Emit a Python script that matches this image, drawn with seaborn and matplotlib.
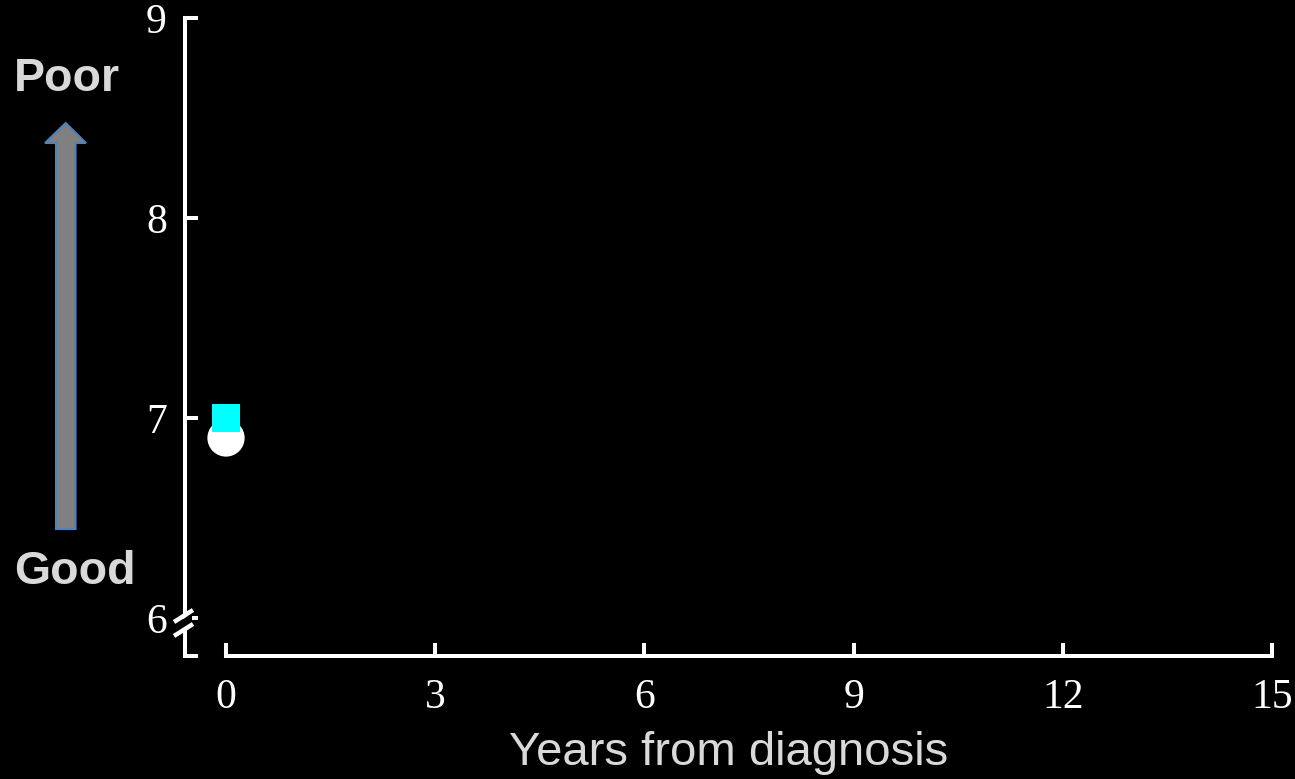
import matplotlib
matplotlib.use('Agg')
import matplotlib.pyplot as plt
import seaborn as sns
import pandas as pd
from matplotlib.patches import Polygon

# ---- data ----
years_circle = [0.0]
values_circle = [6.9]
years_square = [0.0]
values_square = [7.0]
x_ticks = [0, 3, 6, 9, 12, 15]
y_ticks = [6, 7, 8, 9]
x_label = "Years from diagnosis"
top_label = "Poor"
bottom_label = "Good"

sns.set_style("dark", {"axes.facecolor": "black", "figure.facecolor": "black"})

W, H = 1295, 779
fig = plt.figure(figsize=(W / 100, H / 100), dpi=100, facecolor="black")
ax = fig.add_axes([185 / W, 123 / H, 1087 / W, 638 / H])
ax.set_facecolor("black")

df_c = pd.DataFrame({"year": years_circle, "value": values_circle})
df_s = pd.DataFrame({"year": years_square, "value": values_square})
sns.scatterplot(data=df_c, x="year", y="value", marker="o", s=720, color="white",
                edgecolor="none", linewidth=0, ax=ax, zorder=3, clip_on=False)
sns.scatterplot(data=df_s, x="year", y="value", marker="s", s=380, color="#00FFFF",
                edgecolor="none", linewidth=0, ax=ax, zorder=4, clip_on=False)

ax.set_xlim(-0.588, 15)
ax.set_ylim(5.81, 9)
ax.grid(False)
for s in ["top", "right"]:
    ax.spines[s].set_visible(False)
for s in ["left", "bottom"]:
    ax.spines[s].set_color("white")
    ax.spines[s].set_linewidth(2.9)
ax.spines["left"].set_bounds(5.81, 9)
ax.spines["bottom"].set_bounds(0, 15)

ax.set_xticks(x_ticks)
ax.set_yticks(y_ticks)
ax.set_yticks([5.81], minor=True)
ax.set_xticklabels([str(t) for t in x_ticks])
ax.set_yticklabels([str(t) for t in y_ticks])
ax.tick_params(axis="both", which="both", direction="in", length=9.4, width=2.9,
               color="white", labelcolor="white", labelsize=30,
               bottom=True, left=True, top=False, right=False)
ax.tick_params(axis="x", pad=16.5)
ax.tick_params(axis="y", pad=13)
for lab in ax.get_xticklabels() + ax.get_yticklabels():
    lab.set_family("Liberation Serif")

ax.set_xlabel(x_label, fontsize=34, color="#D9D9D9", family="Liberation Sans", labelpad=10)
ax.set_ylabel("")

# ---- overlay in pixel coordinates for annotations ----
ov = fig.add_axes([0, 0, 1, 1], zorder=10)
ov.set_xlim(0, W)
ov.set_ylim(H, 0)
ov.axis("off")
ov.patch.set_visible(False)

ov.text(14, 91, top_label, fontsize=33.5, fontweight="bold", color="#D9D9D9",
        family="Liberation Sans", ha="left", va="baseline")
ov.text(14, 584, bottom_label, fontsize=33.5, fontweight="bold", color="#D9D9D9",
        family="Liberation Sans", ha="left", va="baseline")

arrow = Polygon([(65.7, 123), (86, 143), (75.5, 143), (75.5, 529), (56, 529),
                 (56, 143), (45, 143)], closed=True, facecolor="#808080",
                edgecolor="#4F81BD", linewidth=1.5)
ov.add_patch(arrow)

# axis break marks
gap = Polygon([(176, 624), (192, 613), (192, 623), (176, 634)], closed=True,
              facecolor="black", edgecolor="none")
ov.add_patch(gap)
ov.plot([174, 193], [622, 610], color="white", lw=3.2, solid_capstyle="butt")
ov.plot([174, 193], [636, 624], color="white", lw=3.2, solid_capstyle="butt")

fig.savefig("out.png", dpi=100, facecolor="black")
